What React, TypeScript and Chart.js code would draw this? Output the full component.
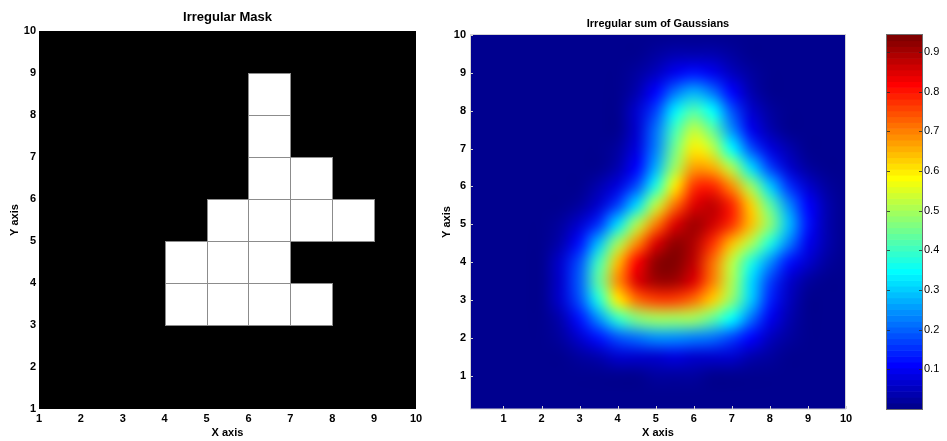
import React, { useEffect, useRef } from "react";
import { Chart, registerables } from "chart.js";

Chart.register(...registerables);

const FONT = "'Liberation Sans', Arial, Helvetica, sans-serif";

// ---- data ----
const axisTicks = [1, 2, 3, 4, 5, 6, 7, 8, 9, 10];

// lower-left corners of the white cells of the mask
const maskCellX = [6, 6, 6, 7, 5, 6, 7, 8, 4, 5, 6, 4, 5, 6, 7];
const maskCellY = [8, 7, 6, 6, 5, 5, 5, 5, 4, 4, 4, 3, 3, 3, 3];

// surface sample positions (columns = x, rows = y from top to bottom)
const surfaceX = [0.5, 1, 1.5, 2, 2.5, 3, 3.5, 4, 4.5, 5, 5.5, 6, 6.5, 7, 7.5, 8, 8.5, 9, 9.5, 10];
const surfaceY = [10, 9.5, 9, 8.5, 8, 7.5, 7, 6.5, 6, 5.5, 5, 4.5, 4, 3.5, 3, 2.5, 2, 1.5, 1, 0.5];

// values (colour bar scale)
const surfaceRows: number[][] = [
  /* 10  */ [0, 0, 0, 0, 0, 0, 0, 0, 0, 0, 0.01, 0.01, 0.01, 0, 0, 0, 0, 0, 0, 0],
  /* 9.5 */ [0, 0, 0, 0, 0, 0, 0, 0, 0.01, 0.02, 0.03, 0.04, 0.03, 0.02, 0.01, 0, 0, 0, 0, 0],
  /* 9   */ [0, 0, 0, 0, 0, 0, 0, 0, 0.02, 0.05, 0.1, 0.13, 0.1, 0.05, 0.02, 0, 0, 0, 0, 0],
  /* 8.5 */ [0, 0, 0, 0, 0, 0, 0, 0.01, 0.04, 0.11, 0.22, 0.27, 0.22, 0.11, 0.04, 0.01, 0, 0, 0, 0],
  /* 8   */ [0, 0, 0, 0, 0, 0, 0, 0.01, 0.06, 0.17, 0.33, 0.42, 0.34, 0.18, 0.06, 0.02, 0, 0, 0, 0],
  /* 7.5 */ [0, 0, 0, 0, 0, 0, 0, 0.01, 0.07, 0.21, 0.41, 0.52, 0.44, 0.25, 0.1, 0.03, 0.01, 0, 0, 0],
  /* 7   */ [0, 0, 0, 0, 0, 0, 0, 0.02, 0.08, 0.23, 0.45, 0.59, 0.53, 0.35, 0.18, 0.08, 0.03, 0.01, 0, 0],
  /* 6.5 */ [0, 0, 0, 0, 0, 0, 0.01, 0.03, 0.11, 0.27, 0.5, 0.67, 0.66, 0.51, 0.32, 0.17, 0.07, 0.02, 0.01, 0],
  /* 6   */ [0, 0, 0, 0, 0, 0.01, 0.03, 0.08, 0.18, 0.37, 0.59, 0.77, 0.79, 0.68, 0.5, 0.3, 0.15, 0.06, 0.02, 0],
  /* 5.5 */ [0, 0, 0, 0, 0.01, 0.02, 0.07, 0.17, 0.32, 0.52, 0.72, 0.85, 0.87, 0.79, 0.63, 0.44, 0.25, 0.11, 0.03, 0.01],
  /* 5   */ [0, 0, 0, 0, 0.02, 0.06, 0.16, 0.31, 0.51, 0.7, 0.84, 0.9, 0.86, 0.77, 0.64, 0.48, 0.29, 0.13, 0.04, 0.01],
  /* 4.5 */ [0, 0, 0, 0.01, 0.04, 0.13, 0.29, 0.49, 0.69, 0.84, 0.92, 0.89, 0.78, 0.64, 0.51, 0.37, 0.23, 0.1, 0.03, 0.01],
  /* 4   */ [0, 0, 0, 0.01, 0.06, 0.18, 0.4, 0.64, 0.82, 0.92, 0.94, 0.87, 0.71, 0.53, 0.37, 0.24, 0.13, 0.06, 0.02, 0],
  /* 3.5 */ [0, 0, 0, 0.01, 0.06, 0.2, 0.44, 0.68, 0.84, 0.91, 0.9, 0.84, 0.7, 0.51, 0.32, 0.17, 0.07, 0.02, 0.01, 0],
  /* 3   */ [0, 0, 0, 0.01, 0.06, 0.18, 0.38, 0.59, 0.72, 0.76, 0.76, 0.72, 0.63, 0.48, 0.3, 0.14, 0.05, 0.01, 0, 0],
  /* 2.5 */ [0, 0, 0, 0.01, 0.04, 0.12, 0.25, 0.39, 0.47, 0.5, 0.5, 0.49, 0.44, 0.35, 0.22, 0.1, 0.03, 0.01, 0, 0],
  /* 2   */ [0, 0, 0, 0, 0.02, 0.06, 0.12, 0.18, 0.22, 0.24, 0.24, 0.23, 0.21, 0.17, 0.11, 0.05, 0.02, 0, 0, 0],
  /* 1.5 */ [0, 0, 0, 0, 0.01, 0.02, 0.04, 0.06, 0.07, 0.07, 0.08, 0.07, 0.07, 0.06, 0.04, 0.02, 0.01, 0, 0, 0],
  /* 1   */ [0, 0, 0, 0, 0, 0, 0.01, 0.01, 0.01, 0.02, 0.02, 0.02, 0.01, 0.01, 0.01, 0, 0, 0, 0, 0],
  /* 0.5 */ [0, 0, 0, 0, 0, 0, 0, 0, 0, 0, 0, 0, 0, 0, 0, 0, 0, 0, 0, 0],
];

const colorbarTicks = [0.1, 0.2, 0.3, 0.4, 0.5, 0.6, 0.7, 0.8, 0.9];
const colorMin = 0;
const colorMax = 0.943;
const surfaceXMin = 0.12;
const surfaceYMin = 0.12;

// ---- colour map (MATLAB jet, 64 levels) ----
function jet64(k: number): [number, number, number] {
  const n = k + 1;
  const c = (v: number) => Math.max(0, Math.min(1, v));
  const r = c(Math.min((n - 24) / 16, (72 - n) / 16));
  const g = c(Math.min((n - 8) / 16, (56 - n) / 16));
  const b = c(Math.min((n + 8) / 16, (40 - n) / 16));
  return [Math.round(r * 255), Math.round(g * 255), Math.round(b * 255)];
}
function colorIndex(v: number) {
  const k = Math.floor(((v - colorMin) / (colorMax - colorMin)) * 64);
  return Math.max(0, Math.min(63, k));
}
function rgb(k: number) {
  const [r, g, b] = jet64(k);
  return `rgb(${r},${g},${b})`;
}

const tickFont = { family: FONT, size: 11, weight: "bold" as const };
const labelFont = { family: FONT, size: 11, weight: "bold" as const };

function fixedTicks(list: number[]) {
  return (s: any) => {
    s.ticks = list.map((v) => ({ value: v }));
  };
}

// ---- plugins ----
const maskPlugin = {
  id: "maskCells",
  beforeDatasetsDraw(chart: any) {
    const { ctx, chartArea: a, scales } = chart;
    const x = scales.x;
    const y = scales.y;
    ctx.save();
    ctx.fillStyle = "#000";
    ctx.fillRect(a.left, a.top, a.right - a.left, a.bottom - a.top);
    const pts = chart.data.datasets[0].data as { x: number; y: number }[];
    const rects = pts.map((p) => {
      const x0 = Math.round(x.getPixelForValue(p.x));
      const x1 = Math.round(x.getPixelForValue(p.x + 1));
      const y0 = Math.round(y.getPixelForValue(p.y + 1));
      const y1 = Math.round(y.getPixelForValue(p.y));
      return [x0, y0, x1, y1];
    });
    ctx.fillStyle = "#fff";
    rects.forEach(([x0, y0, x1, y1]) => ctx.fillRect(x0, y0, x1 - x0, y1 - y0));
    ctx.strokeStyle = "#8c8c8c";
    ctx.lineWidth = 1;
    rects.forEach(([x0, y0, x1, y1]) => ctx.strokeRect(x0 + 0.5, y0 + 0.5, x1 - x0, y1 - y0));
    ctx.restore();
  },
};

const heatPlugin = {
  id: "heatSurface",
  beforeDatasetsDraw(chart: any) {
    const { ctx, chartArea: a, scales } = chart;
    const x = scales.x;
    const y = scales.y;
    const nx = surfaceX.length;
    const ny = surfaceY.length;
    const off = document.createElement("canvas");
    off.width = nx;
    off.height = ny;
    const octx = off.getContext("2d")!;
    const img = octx.createImageData(nx, ny);
    surfaceRows.forEach((row, j) =>
      row.forEach((v, i) => {
        const [r, g, b] = jet64(colorIndex(v));
        const p = (j * nx + i) * 4;
        img.data[p] = r;
        img.data[p + 1] = g;
        img.data[p + 2] = b;
        img.data[p + 3] = 255;
      })
    );
    octx.putImageData(img, 0, 0);
    const hx = (surfaceX[1] - surfaceX[0]) / 2;
    const hy = (surfaceY[0] - surfaceY[1]) / 2;
    const left = x.getPixelForValue(surfaceX[0] - hx);
    const right = x.getPixelForValue(surfaceX[nx - 1] + hx);
    const top = y.getPixelForValue(surfaceY[0] + hy);
    const bottom = y.getPixelForValue(surfaceY[ny - 1] - hy);
    ctx.save();
    ctx.beginPath();
    ctx.rect(a.left, a.top, a.right - a.left, a.bottom - a.top);
    ctx.clip();
    ctx.fillStyle = rgb(0);
    ctx.fillRect(a.left, a.top, a.right - a.left, a.bottom - a.top);
    ctx.imageSmoothingEnabled = true;
    (ctx as any).imageSmoothingQuality = "high";
    ctx.drawImage(off, left, top, right - left, bottom - top);
    ctx.restore();
  },
  afterDatasetsDraw(chart: any) {
    const { ctx, chartArea: a, scales } = chart;
    ctx.save();
    ctx.strokeStyle = "#d4d4d4";
    ctx.lineWidth = 1;
    ctx.beginPath();
    scales.x.ticks.forEach((t: any) => {
      const px = Math.round(scales.x.getPixelForValue(t.value)) + 0.5;
      ctx.moveTo(px, a.bottom);
      ctx.lineTo(px, a.bottom - 3);
    });
    scales.y.ticks.forEach((t: any) => {
      const py = Math.round(scales.y.getPixelForValue(t.value)) + 0.5;
      ctx.moveTo(a.left, py);
      ctx.lineTo(a.left + 3, py);
    });
    ctx.stroke();
    ctx.strokeRect(Math.round(a.left) + 0.5, Math.round(a.top) - 0.5, Math.round(a.right - a.left) - 1, Math.round(a.bottom - a.top) + 0.5);
    ctx.restore();
  },
};

const colorbarPlugin = {
  id: "colorbar",
  beforeDatasetsDraw(chart: any) {
    const { ctx, chartArea: a, scales } = chart;
    const y = scales.y;
    ctx.save();
    for (let k = 0; k < 64; k++) {
      const lo = colorMin + ((colorMax - colorMin) * k) / 64;
      const hi = colorMin + ((colorMax - colorMin) * (k + 1)) / 64;
      const y0 = y.getPixelForValue(hi);
      const y1 = y.getPixelForValue(lo);
      ctx.fillStyle = rgb(k);
      ctx.fillRect(a.left, y0 - 0.3, a.right - a.left, y1 - y0 + 0.6);
    }
    ctx.strokeStyle = "rgba(40,40,40,0.8)";
    ctx.lineWidth = 1;
    ctx.beginPath();
    y.ticks.forEach((t: any) => {
      const py = Math.round(y.getPixelForValue(t.value)) + 0.5;
      ctx.moveTo(a.left, py);
      ctx.lineTo(a.left + 3, py);
      ctx.moveTo(a.right, py);
      ctx.lineTo(a.right - 3, py);
    });
    ctx.stroke();
    ctx.strokeStyle = "#6e6e6e";
    ctx.strokeRect(Math.round(a.left) - 0.5, Math.round(a.top) - 0.5, Math.round(a.right - a.left) + 1, Math.round(a.bottom - a.top) + 1);
    ctx.restore();
  },
};

function axisBase(min: number, max: number) {
  return {
    type: "linear" as const,
    min,
    max,
    afterBuildTicks: fixedTicks(axisTicks),
    grid: { display: false, drawTicks: false },
    border: { display: false },
    ticks: { color: "#000", font: tickFont, maxRotation: 0, autoSkip: false },
  };
}

export default function App() {
  const maskRef = useRef<HTMLCanvasElement>(null);
  const heatRef = useRef<HTMLCanvasElement>(null);
  const barRef = useRef<HTMLCanvasElement>(null);

  useEffect(() => {
    Chart.defaults.font.family = FONT;
    const charts: Chart[] = [];

    charts.push(
      new Chart(maskRef.current!, {
        type: "scatter",
        data: {
          datasets: [
            {
              data: maskCellX.map((x, i) => ({ x, y: maskCellY[i] })),
              pointRadius: 0,
              showLine: false,
            },
          ],
        },
        options: {
          animation: false,
          responsive: false,
          maintainAspectRatio: false,
          events: [],
          layout: { padding: { left: 0, right: 24, top: 0, bottom: 0 } },
          plugins: {
            legend: { display: false },
            tooltip: { enabled: false },
            title: {
              display: true,
              text: "Irregular Mask",
              color: "#000",
              font: { family: FONT, size: 13, weight: "bold" },
              padding: { top: 9.5, bottom: 5.9 },
              fullSize: false,
            },
          },
          scales: {
            x: {
              ...axisBase(1, 10),
              ticks: { ...axisBase(1, 10).ticks, padding: 3 },
              afterFit: (s: any) => {
                s.height = 32;
              },
              title: { display: true, text: "X axis", color: "#000", font: labelFont, padding: { top: 0, bottom: 1 } },
            },
            y: {
              ...axisBase(1, 10),
              ticks: { ...axisBase(1, 10).ticks, padding: 3 },
              afterFit: (s: any) => {
                s.width = 39;
              },
              title: { display: true, text: "Y axis", color: "#000", font: labelFont, padding: { top: 8.5, bottom: 0 } },
            },
          },
        } as any,
        plugins: [maskPlugin],
      })
    );

    charts.push(
      new Chart(heatRef.current!, {
        type: "scatter",
        data: {
          datasets: [
            {
              data: surfaceRows.flatMap((row, j) => row.map((v, i) => ({ x: surfaceX[i], y: surfaceY[j], v }))),
              pointRadius: 0,
              showLine: false,
            },
          ],
        },
        options: {
          animation: false,
          responsive: false,
          maintainAspectRatio: false,
          events: [],
          layout: { padding: { left: 0, right: 34, top: 0, bottom: 0 } },
          plugins: {
            legend: { display: false },
            tooltip: { enabled: false },
            title: {
              display: true,
              text: "Irregular sum of Gaussians",
              color: "#000",
              font: { family: FONT, size: 11, weight: "bold" },
              padding: { top: 17.7, bottom: 4.1 },
              fullSize: false,
            },
          },
          scales: {
            x: {
              ...axisBase(surfaceXMin, 10),
              ticks: { ...axisBase(1, 10).ticks, padding: 3 },
              afterFit: (s: any) => {
                s.height = 32;
              },
              title: { display: true, text: "X axis", color: "#000", font: labelFont, padding: { top: 0, bottom: 1 } },
            },
            y: {
              ...axisBase(surfaceYMin, 10),
              ticks: { ...axisBase(1, 10).ticks, padding: 4 },
              afterFit: (s: any) => {
                s.width = 30;
              },
              title: { display: true, text: "Y axis", color: "#000", font: labelFont, padding: { top: 0, bottom: 0 } },
            },
          },
        } as any,
        plugins: [heatPlugin],
      })
    );

    charts.push(
      new Chart(barRef.current!, {
        type: "scatter",
        data: { datasets: [{ data: [], pointRadius: 0 }] },
        options: {
          animation: false,
          responsive: false,
          maintainAspectRatio: false,
          events: [],
          layout: { padding: { left: 7, right: 0, top: 35, bottom: 32 } },
          plugins: { legend: { display: false }, tooltip: { enabled: false }, title: { display: false } },
          scales: {
            x: { type: "linear", min: 0, max: 1, display: false },
            y: {
              type: "linear",
              position: "right",
              min: colorMin,
              max: colorMax,
              afterBuildTicks: fixedTicks(colorbarTicks),
              afterFit: (s: any) => {
                s.width = 25;
              },
              grid: { display: false, drawTicks: false },
              border: { display: false },
              ticks: {
                color: "#000",
                font: { family: FONT, size: 11, weight: "normal" },
                padding: 2,
                callback: (v: any) => Number(v).toFixed(1),
              },
            },
          },
        } as any,
        plugins: [colorbarPlugin],
      })
    );

    return () => charts.forEach((c) => c.destroy());
  }, []);

  const abs = (left: number, width: number): React.CSSProperties => ({
    position: "absolute",
    left,
    top: 0,
    width,
    height: 441,
    display: "block",
  });

  return (
    <div style={{ position: "absolute", left: 0, top: 0, width: 947, height: 441, background: "#fff", overflow: "hidden" }}>
      <canvas ref={maskRef} width={440} height={441} style={abs(0, 440)} />
      <canvas ref={heatRef} width={440} height={441} style={abs(440, 440)} />
      <canvas ref={barRef} width={67} height={441} style={abs(880, 67)} />
    </div>
  );
}
